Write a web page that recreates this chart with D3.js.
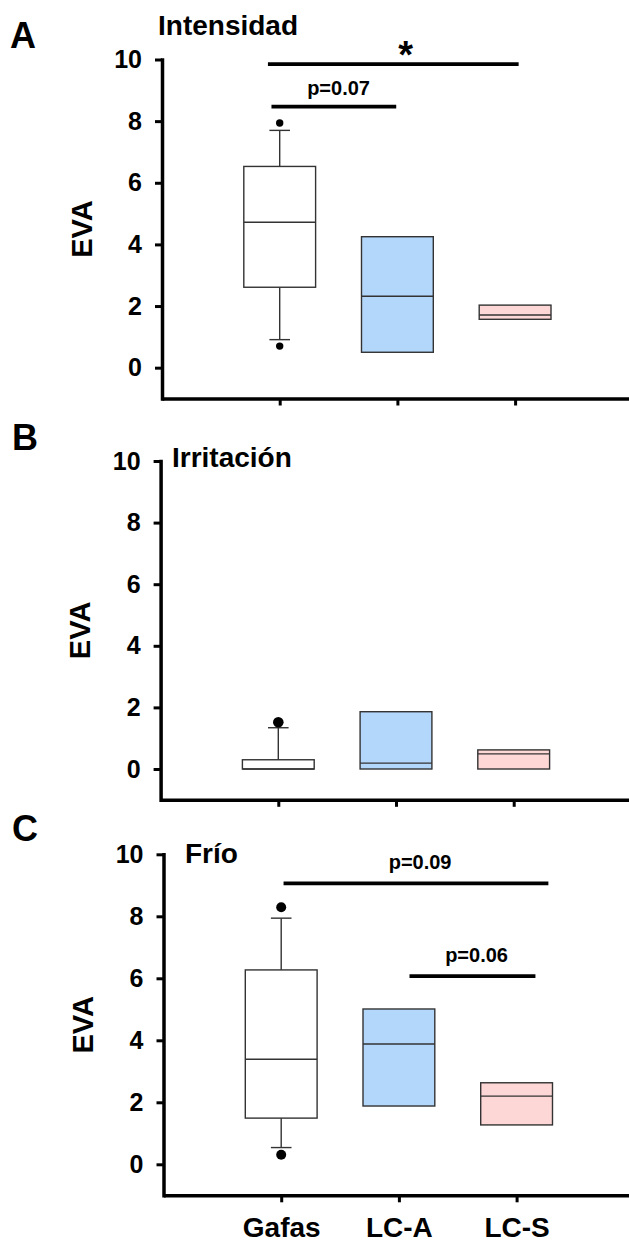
<!DOCTYPE html>
<html>
<head>
<meta charset="utf-8">
<script src="https://cdn.jsdelivr.net/npm/d3@7"></script>
<style>
  html, body { margin: 0; padding: 0; background: #fff; }
  svg { display: block; font-family: "Liberation Sans", Arial, sans-serif; font-weight: bold; }
</style>
</head>
<body>
<script>
// ---------- data ----------
const categories = ["Gafas", "LC-A", "LC-S"];
const panelLetters = ["A", "B", "C"];
const panelTitles = ["Intensidad", "Irritación", "Frío"];
const yTicks = [0, 2, 4, 6, 8, 10];
const yLabel = "EVA";

// Panel A: Intensidad
const intensidadLow = [0.91, null, null];
const intensidadQ1 = [2.61, 0.50, 1.57];
const intensidadMedian = [4.72, 2.32, 1.71];
const intensidadQ3 = [6.53, 4.25, 2.03];
const intensidadHigh = [7.70, null, null];
const intensidadOutliers = [[0.70, 7.94], [], []];
const intensidadSig = [
  { from: 0.90, to: 3.03, y: 9.85, label: "*", labelX: 2.07, labelY: 9.72 },
  { from: 0.93, to: 1.99, y: 8.47, label: "p=0.07", labelX: 1.50, labelY: 8.85 }
];

// Panel B: Irritación
const irritacionLow = [null, null, null];
const irritacionQ1 = [0, 0, 0];
const irritacionMedian = [0, 0.19, 0.49];
const irritacionQ3 = [0.30, 1.86, 0.62];
const irritacionHigh = [1.34, null, null];
const irritacionOutliers = [[1.52], [], []];
const irritacionSig = [];

// Panel C: Frío
const frioLow = [0.54, null, null];
const frioQ1 = [1.49, 1.88, 1.27];
const frioMedian = [3.39, 3.88, 2.20];
const frioQ3 = [6.27, 5.01, 2.63];
const frioHigh = [7.94, null, null];
const frioOutliers = [[0.31, 8.29], [], []];
const frioSig = [
  { from: 1.02, to: 3.27, y: 9.06, label: "p=0.09", labelX: 2.18, labelY: 9.52 },
  { from: 2.09, to: 3.16, y: 6.07, label: "p=0.06", labelX: 2.66, labelY: 6.54 }
];

// ---------- layout / style ----------
const W = 629, H = 1243;
const boxFill = ["#ffffff", "#b3d7fb", "#fdd6d6"];
const stroke = "#333";

const panels = [
  { low: intensidadLow, q1: intensidadQ1, med: intensidadMedian, q3: intensidadQ3, high: intensidadHigh, out: intensidadOutliers, sig: intensidadSig,
    axisX: 162, yBottom: 398.5, yTop: 59.5, r: 3.7,
    letterPos: [10, 48], titlePos: [158, 35], evaX: 92 },
  { low: irritacionLow, q1: irritacionQ1, med: irritacionMedian, q3: irritacionQ3, high: irritacionHigh, out: irritacionOutliers, sig: irritacionSig,
    axisX: 160.6, yBottom: 799.8, yTop: 461, r: 5.3,
    letterPos: [12, 450], titlePos: [172, 467], evaX: 90 },
  { low: frioLow, q1: frioQ1, med: frioMedian, q3: frioQ3, high: frioHigh, out: frioOutliers, sig: frioSig,
    axisX: 163.5, yBottom: 1195.3, yTop: 854.3, r: 5,
    letterPos: [12, 841], titlePos: [185, 863], evaX: 93 }
];

const svg = d3.select("body").append("svg")
  .attr("width", W).attr("height", H)
  .attr("viewBox", `0 0 ${W} ${H}`);

const step = 117.7;
const boxW = 0.61;
const capW = 0.175;

panels.forEach((p, pi) => {
  const x = d3.scaleLinear().domain([0, 4]).range([p.axisX, p.axisX + 4 * step]);
  const y = d3.scaleLinear().domain([-1, 10]).range([p.yBottom, p.yTop]);
  const g = svg.append("g");

  // panel letter
  g.append("text").attr("x", p.letterPos[0]).attr("y", p.letterPos[1])
    .attr("font-size", 36).attr("fill", "#000").text(panelLetters[pi]);
  // panel title
  g.append("text").attr("x", p.titlePos[0]).attr("y", p.titlePos[1])
    .attr("font-size", 28).attr("fill", "#000").text(panelTitles[pi]);
  // y label
  g.append("text")
    .attr("transform", `translate(${p.evaX},${(p.yBottom + p.yTop) / 2}) rotate(-90)`)
    .attr("text-anchor", "middle").attr("font-size", 29).attr("fill", "#000")
    .text(yLabel);

  // y axis
  const yAxis = g.append("g").attr("transform", `translate(${p.axisX},0)`)
    .call(d3.axisLeft(y).tickValues(yTicks).tickSize(7).tickSizeOuter(0).tickPadding(13).tickFormat(d3.format("d")));
  yAxis.select(".domain").attr("stroke", "#000").attr("stroke-width", 3.5).attr("stroke-linecap", "square");
  yAxis.selectAll(".tick line").attr("stroke", "#000").attr("stroke-width", 3);
  yAxis.selectAll(".tick text").attr("font-size", 25).attr("font-family", "Liberation Sans, Arial, sans-serif")
    .attr("font-weight", "bold").attr("fill", "#000");

  // x axis
  const xAxis = g.append("g").attr("transform", `translate(0,${p.yBottom})`)
    .call(d3.axisBottom(x).tickValues([1, 2, 3]).tickSize(7).tickSizeOuter(0).tickFormat(""));
  xAxis.select(".domain").attr("stroke", "#000").attr("stroke-width", 3.5);
  xAxis.selectAll(".tick line").attr("stroke", "#000").attr("stroke-width", 3);
  if (pi === 2) {
    xAxis.selectAll(".tick").append("text")
      .attr("y", 1237 - p.yBottom).attr("text-anchor", "middle")
      .attr("font-size", 28).attr("font-family", "Liberation Sans, Arial, sans-serif")
      .attr("font-weight", "bold").attr("fill", "#000")
      .text((d, i) => categories[i]);
  }

  // boxes
  categories.forEach((c, i) => {
    const cx = x(i + 1);
    const bx0 = x(i + 1 - boxW / 2), bx1 = x(i + 1 + boxW / 2);
    // whiskers
    if (p.high[i] != null) {
      g.append("line").attr("x1", cx).attr("x2", cx).attr("y1", y(p.q3[i])).attr("y2", y(p.high[i]))
        .attr("stroke", stroke).attr("stroke-width", 1.4);
      g.append("line").attr("x1", x(i + 1 - capW / 2)).attr("x2", x(i + 1 + capW / 2))
        .attr("y1", y(p.high[i])).attr("y2", y(p.high[i])).attr("stroke", stroke).attr("stroke-width", 1.4);
    }
    if (p.low[i] != null) {
      g.append("line").attr("x1", cx).attr("x2", cx).attr("y1", y(p.q1[i])).attr("y2", y(p.low[i]))
        .attr("stroke", stroke).attr("stroke-width", 1.4);
      g.append("line").attr("x1", x(i + 1 - capW / 2)).attr("x2", x(i + 1 + capW / 2))
        .attr("y1", y(p.low[i])).attr("y2", y(p.low[i])).attr("stroke", stroke).attr("stroke-width", 1.4);
    }
    g.append("rect").attr("x", bx0).attr("y", y(p.q3[i]))
      .attr("width", bx1 - bx0).attr("height", y(p.q1[i]) - y(p.q3[i]))
      .attr("fill", boxFill[i]).attr("stroke", stroke).attr("stroke-width", 1.4);
    g.append("line").attr("x1", bx0).attr("x2", bx1).attr("y1", y(p.med[i])).attr("y2", y(p.med[i]))
      .attr("stroke", stroke).attr("stroke-width", 1.4);
    p.out[i].forEach(v => {
      g.append("circle").attr("cx", cx).attr("cy", y(v)).attr("r", p.r).attr("fill", "#000");
    });
  });

  // significance bars
  p.sig.forEach(s => {
    g.append("line").attr("x1", x(s.from)).attr("x2", x(s.to)).attr("y1", y(s.y)).attr("y2", y(s.y))
      .attr("stroke", "#000").attr("stroke-width", 3.8);
    g.append("text").attr("x", x(s.labelX)).attr("y", y(s.labelY))
      .attr("text-anchor", "middle").attr("fill", "#000")
      .attr("font-size", s.label === "*" ? 38 : 20)
      .text(s.label);
  });
});
</script>
</body>
</html>
